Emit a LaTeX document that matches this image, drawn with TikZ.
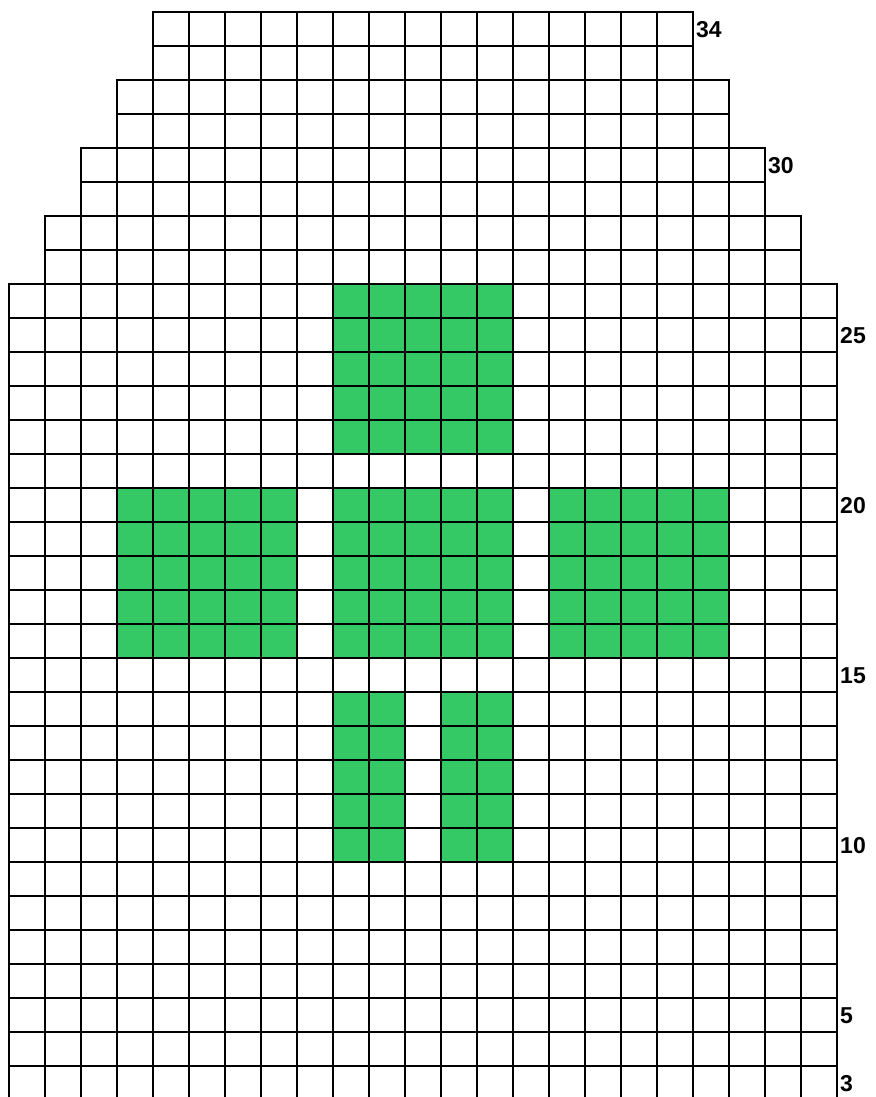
\documentclass[tikz,border=0pt]{standalone}
\usepackage{fontspec}
\setmainfont{Liberation Sans}
\definecolor{knitgreen}{RGB}{52,201,101}
\begin{document}
\begin{tikzpicture}[x=1pt,y=-1pt,
  cell/.style={draw=black,line width=1.5pt},
  block/.style={fill=knitgreen},
  rowlabel/.style={anchor=west,inner sep=0pt,font=\bfseries\fontsize{23}{23}\selectfont}]
\useasboundingbox (0,0) rectangle (875,1097);
\clip (0,0) rectangle (875,1097);
% green blocks (cols c1..c2, rows r1 (top) .. r2 (bottom))
\foreach \ca/\cb/\ra/\rb in {9/13/26/22, 3/7/20/16, 9/13/20/16, 15/19/20/16, 9/10/14/10, 12/13/14/10}{
  \fill[block] ({9+36*\ca},{284+(26-\ra)*34}) rectangle ({9+36*(\cb+1)},{284+(27-\rb)*34});
}
% shaped top rows
\foreach \r/\a/\b in {34/4/18,33/4/18,32/3/19,31/3/19,30/2/20,29/2/20,28/1/21,27/1/21}{
  \foreach \c in {\a,...,\b}{
    \draw[cell] ({9+36*\c},{284+(26-\r)*34}) rectangle ++(36,34);
  }
}
% full-width rows
\foreach \r in {3,...,26}{
  \foreach \c in {0,...,22}{
    \draw[cell] ({9+36*\c},{284+(26-\r)*34}) rectangle ++(36,34);
  }
}
% row labels
\node[rowlabel] (l34) at (696,30) {34};
\node[rowlabel] (l30) at (768,166) {30};
\foreach \r in {25,20,15,10,5,3}{
  \node[rowlabel] (l\r) at (840,{284+(26-\r)*34+18}) {\r};
}
\end{tikzpicture}
\end{document}
